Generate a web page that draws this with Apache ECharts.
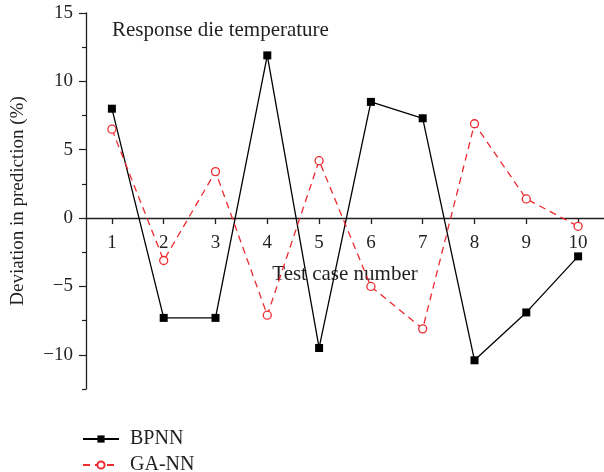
<!DOCTYPE html>
<html>
<head>
<meta charset="utf-8">
<script src="https://cdn.jsdelivr.net/npm/echarts@6/dist/echarts.min.js"></script>
<style>
  html, body { margin: 0; padding: 0; background: #fff; }
  #chart { width: 604px; height: 472px; }
</style>
</head>
<body>
<div id="chart"></div>
<script>
const cases = ['1', '2', '3', '4', '5', '6', '7', '8', '9', '10']
const bpnn = [8.0, -7.3, -7.3, 11.9, -9.5, 8.5, 7.3, -10.4, -6.9, -2.8]
const gann = [6.5, -3.1, 3.4, -7.1, 4.2, -5.0, -8.1, 6.9, 1.4, -0.6]
const majorTicks = [-10, -5, 0, 5, 10, 15]
const minorTicks = [-12.5, -7.5, -2.5, 2.5, 7.5, 12.5]

const font = '"Liberation Serif", "DejaVu Serif", serif'
const ink = '#231f20'
const yMin = -12.5
const yMax = 15
const gridTop = 13
const gridHeight = 376
// x axis sits on the zero line, shift it up from the grid bottom
const zeroShift = -gridHeight * (0 - yMin) / (yMax - yMin)

let chart = echarts.init(document.getElementById('chart'))
chart.setOption({
  animation: false,
  textStyle: { fontFamily: font, color: ink },
  title: {
    text: 'Response die temperature',
    left: 107,
    top: 15,
    textStyle: { fontFamily: font, fontSize: 21, fontWeight: 'normal', color: ink },
  },
  legend: {
    orient: 'vertical',
    left: 77,
    top: 424,
    height: 60,
    itemWidth: 36,
    itemHeight: 9,
    itemGap: 6,
    data: ['BPNN', 'GA-NN'],
    textStyle: { fontFamily: font, fontSize: 20, lineHeight: 20, color: ink, padding: [0, 0, 0, 6] },
  },
  grid: { left: 86, top: gridTop, width: 521, height: gridHeight },
  xAxis: {
    type: 'category',
    data: cases,
    boundaryGap: true,
    position: 'bottom',
    offset: zeroShift,
    name: 'Test case number',
    nameLocation: 'middle',
    nameGap: 46,
    nameTextStyle: { fontFamily: font, fontSize: 21, color: ink },
    axisLine: { onZero: false, lineStyle: { color: ink, width: 1.3 } },
    axisTick: { show: true, alignWithLabel: true, interval: 0, length: 6,
      lineStyle: { color: ink, width: 1.3 } },
    axisLabel: { margin: 15, fontFamily: font, fontSize: 19, color: ink },
    splitLine: { show: false },
  },
  yAxis: [
    {
      type: 'value',
      min: yMin,
      max: yMax,
      name: 'Deviation in prediction (%)',
      nameLocation: 'middle',
      nameGap: 58,
      nameTextStyle: { fontFamily: font, fontSize: 19, color: ink },
      axisLine: { show: true, lineStyle: { color: ink, width: 1.3 } },
      axisTick: { show: true, length: 7, customValues: majorTicks, lineStyle: { color: ink, width: 1.2 } },
      axisLabel: { margin: 13, fontFamily: font, fontSize: 19, color: ink, customValues: majorTicks,
        formatter: v => v < 0 ? '\u2212' + Math.abs(v) : String(v) },
      splitLine: { show: false },
    },
    {
      type: 'value',
      min: yMin,
      max: yMax,
      position: 'left',
      axisLine: { show: false },
      axisTick: { show: true, length: 4, customValues: minorTicks, lineStyle: { color: ink, width: 1.2 } },
      axisLabel: { show: false },
      splitLine: { show: false },
    },
  ],
  series: [
    {
      name: 'BPNN',
      type: 'line',
      data: bpnn,
      symbol: 'rect',
      symbolSize: 8,
      lineStyle: { color: '#000', width: 1.3 },
      itemStyle: { color: '#000' },
    },
    {
      name: 'GA-NN',
      type: 'line',
      data: gann,
      symbol: 'circle',
      symbolSize: 8,
      lineStyle: { color: '#ee2a2f', width: 1.3, type: [7, 5] },
      itemStyle: { color: '#fff', borderColor: '#ee2a2f', borderWidth: 1.3 },
    },
  ],
})
</script>
</body>
</html>
